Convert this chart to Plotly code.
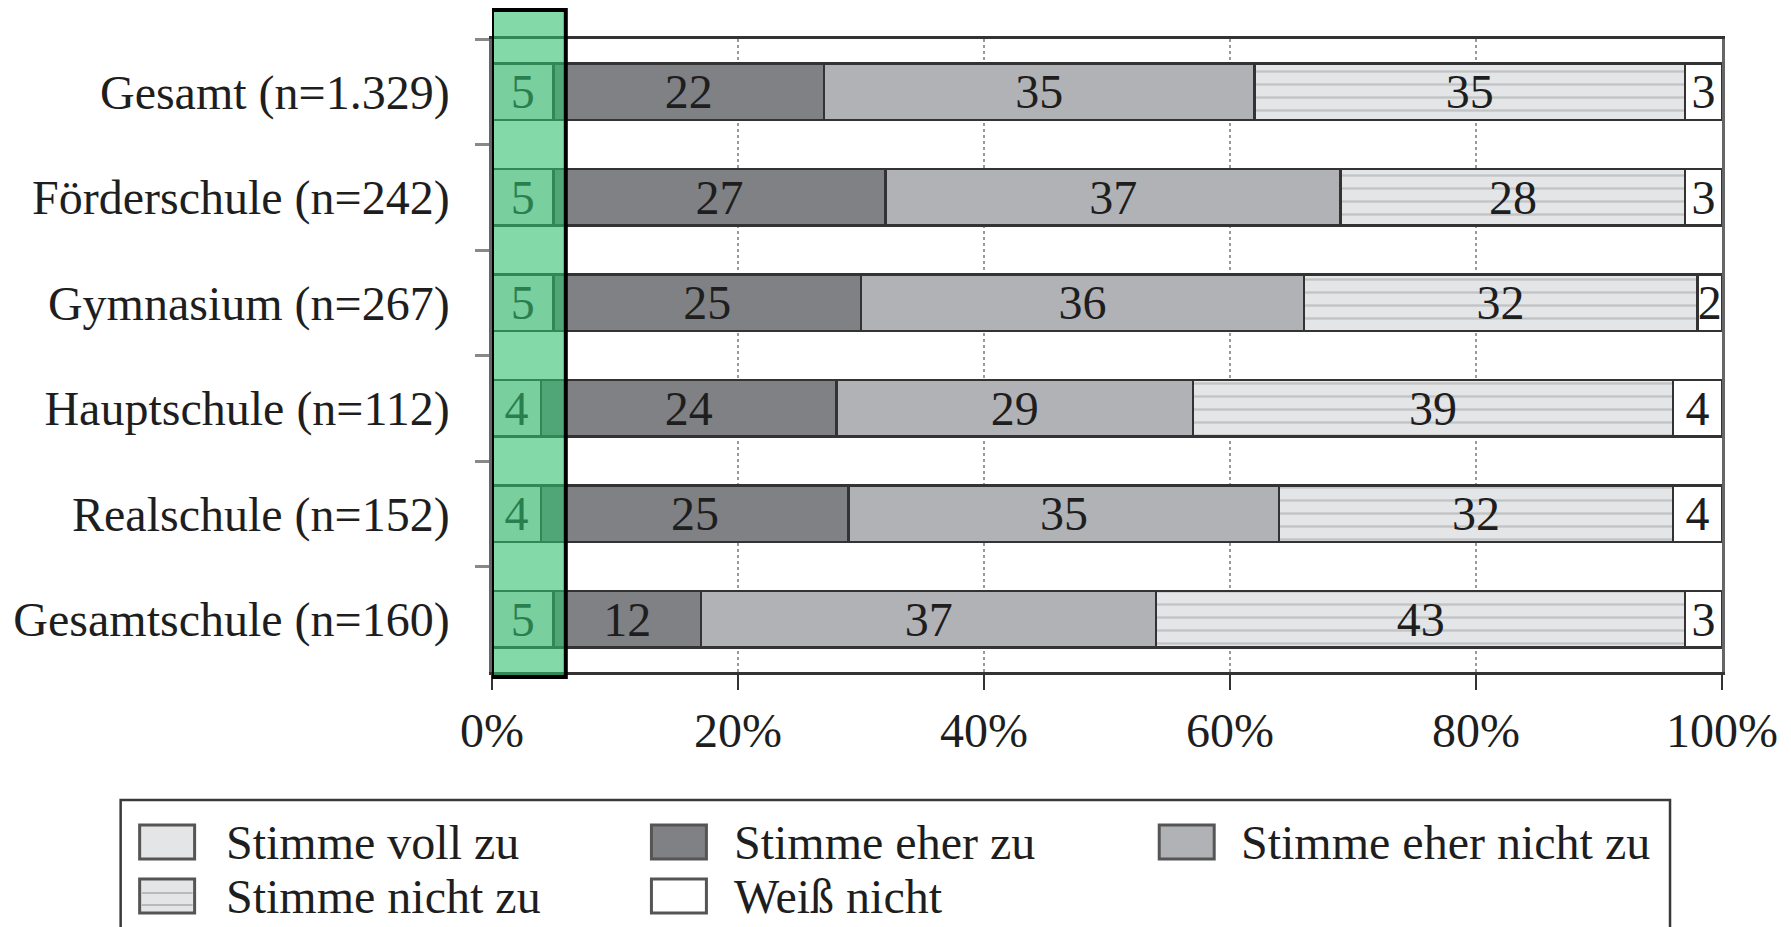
import plotly.graph_objects as go

# ---------------- data ----------------
categories = [
    "Gesamt (n=1.329)",
    "Förderschule (n=242)",
    "Gymnasium (n=267)",
    "Hauptschule (n=112)",
    "Realschule (n=152)",
    "Gesamtschule (n=160)",
]
stimme_voll_zu = [5, 5, 5, 4, 4, 5]
stimme_eher_zu = [22, 27, 25, 24, 25, 12]
stimme_eher_nicht_zu = [35, 37, 36, 29, 35, 37]
stimme_nicht_zu = [35, 28, 32, 39, 32, 43]
weiss_nicht = [3, 3, 2, 4, 4, 3]
series_names = ["Stimme voll zu", "Stimme eher zu", "Stimme eher nicht zu",
                "Stimme nicht zu", "Weiß nicht"]
x_tick_values = [0, 20, 40, 60, 80, 100]
x_tick_labels = ["0%", "20%", "40%", "60%", "80%", "100%"]
highlight_range = [0, 6]

series_values = [stimme_voll_zu, stimme_eher_zu, stimme_eher_nicht_zu,
                 stimme_nicht_zu, weiss_nicht]

# ---------------- style ----------------
FONT = "Liberation Serif"
TXT = "#1e1e1e"
FS = 48
fills = ["#e4e5e7", "#808184", "#b1b2b5", "#e4e5e7", "#ffffff"]
patterns = [None, None, None,
            dict(shape="-", fillmode="replace", bgcolor="#e4e5e7",
                 fgcolor="#c2c3c5", size=13, solidity=0.18),
            None]

W, H = 1791, 927
L, R, T, B = 491.5, 1722, 39, 672


def px(x):
    return (x - L) / (R - L)


def py(y):
    return (B - y) / (B - T)


fig = go.Figure()
for name, vals, col, pat in zip(series_names, series_values, fills, patterns):
    marker = dict(color=col, line=dict(color="#333333", width=2.5))
    if pat:
        marker["pattern"] = pat
    fig.add_trace(go.Bar(
        y=categories, x=vals, name=name, orientation="h",
        marker=marker, width=0.54,
        text=[str(v) for v in vals], textposition="inside",
        insidetextanchor="middle", textangle=0,
        textfont=dict(family=FONT, size=FS, color=TXT),
        showlegend=False, hoverinfo="x+y+name",
    ))

shapes = []
annotations = []

# green highlight box
shapes.append(dict(type="rect", xref="x", yref="paper",
                   x0=highlight_range[0], x1=highlight_range[1],
                   y0=py(677), y1=py(10),
                   fillcolor="rgba(50,192,110,0.6)",
                   line=dict(color="#000000", width=4), layer="above"))

# manual legend (large swatches as in reference)
shapes.append(dict(type="rect", xref="paper", yref="paper",
                   x0=px(120), x1=px(1670), y0=py(945), y1=py(800),
                   fillcolor="rgba(0,0,0,0)",
                   line=dict(color="#3a3a3a", width=2.5), layer="above"))
col_sw = [139, 651, 1159]
col_tx = [223, 732, 1239]
row_y = [842, 896]
for i, (name, col) in enumerate(zip(series_names, fills)):
    r, c = divmod(i, 3)
    x0, x1 = col_sw[c], col_sw[c] + 55
    y0, y1 = row_y[r] - 17, row_y[r] + 17
    shapes.append(dict(type="rect", xref="paper", yref="paper",
                       x0=px(x0), x1=px(x1), y0=py(y1), y1=py(y0),
                       fillcolor=col, line=dict(color="#555555", width=3)))
    if patterns[i]:
        for yy in (row_y[r] - 3, row_y[r] + 9):
            shapes.append(dict(type="line", xref="paper", yref="paper",
                               x0=px(x0 + 2), x1=px(x1 - 2), y0=py(yy), y1=py(yy),
                               line=dict(color="#b8b9bb", width=2)))
    annotations.append(dict(xref="paper", yref="paper", x=px(col_tx[c]), y=py(row_y[r]),
                            text=name, showarrow=False, xanchor="left", yanchor="middle",
                            font=dict(family=FONT, size=FS, color=TXT)))

fig.update_layout(
    width=W, height=H,
    margin=dict(l=L, r=W - R, t=T, b=H - B),
    barmode="stack",
    paper_bgcolor="white", plot_bgcolor="white",
    font=dict(family=FONT, size=FS, color=TXT),
    shapes=shapes, annotations=annotations,
    uniformtext=dict(mode="show", minsize=FS),
    showlegend=False,
)
fig.update_xaxes(
    range=[0, 100], tickmode="array", tickvals=x_tick_values, ticktext=x_tick_labels,
    showgrid=True, gridcolor="#9a9a9a", gridwidth=1.5, griddash="dot",
    showline=True, linecolor="#333333", linewidth=2.5, mirror=True,
    ticks="outside", ticklen=15, tickwidth=2, tickcolor="#333333",
    ticklabelstandoff=0, zeroline=False,
    tickfont=dict(family=FONT, size=FS, color=TXT),
)
fig.update_yaxes(
    categoryorder="array", categoryarray=categories, autorange="reversed",
    showline=True, linecolor="#666666", linewidth=2.5, mirror=True,
    ticks="outside", tickson="boundaries", ticklen=14, tickwidth=2.5,
    tickcolor="#888888", ticklabelstandoff=30, showgrid=False,
    tickfont=dict(family=FONT, size=FS, color=TXT),
)

fig.write_html("out.html", config={"displayModeBar": False},
               post_script="document.body.style.margin='0';document.body.style.overflow='hidden';")
